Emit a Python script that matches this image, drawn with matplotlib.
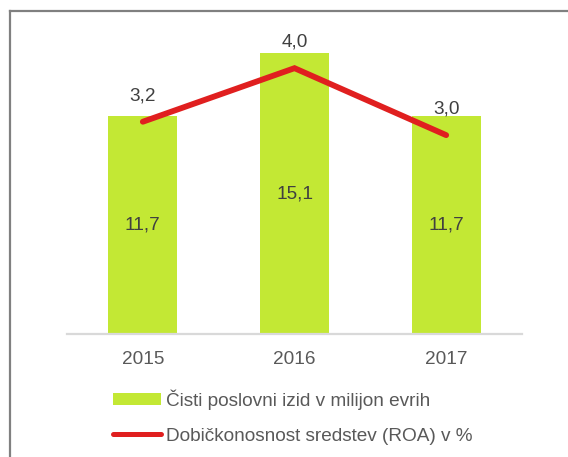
import matplotlib
matplotlib.use("Agg")
import matplotlib.pyplot as plt
from matplotlib.lines import Line2D
from matplotlib.patches import Patch

years = ["2015", "2016", "2017"]
net_income = [11.7, 15.1, 11.7]
roa = [3.2, 4.0, 3.0]
bar_label = "Čisti poslovni izid v milijon evrih"
line_label = "Dobičkonosnost sredstev (ROA) v %"

plt.rcParams['font.family'] = ['Liberation Sans', 'DejaVu Sans']

W, H = 568, 457
fig = plt.figure(figsize=(W/100, H/100), dpi=100)
ax = fig.add_axes([67/W, (H-334)/H, 455/W, 304/H])
ax2 = ax.twinx()

green = "#c3e834"
red = "#e01f1f"
fs = 13.7

x = list(range(len(years)))
bars = ax.bar(x, net_income, width=0.455, color=green, zorder=2)
ax.set_xlim(-0.5, 2.5)
ax.set_ylim(0, 16.34)
for xi, v in zip(x, net_income):
    ax.text(xi, v/2, f"{v:.1f}".replace(".", ","), ha="center", va="center",
            fontsize=fs, color="#404040")

ax2.plot(x, roa, color=red, lw=4.2, solid_capstyle="round", solid_joinstyle="miter", zorder=3)
ax2.set_ylim(0.03, 4.57)
for xi, v in zip(x, roa):
    ax2.annotate(f"{v:.1f}".replace(".", ","), (xi, v), xytext=(0, 18.5),
                 textcoords="offset points", ha="center", va="center",
                 fontsize=fs, color="#404040")

for a in (ax, ax2):
    for s in a.spines.values():
        s.set_visible(False)
    a.set_yticks([])
ax.spines["bottom"].set_visible(True)
ax.spines["bottom"].set_color("#d9d9d9")
ax.spines["bottom"].set_linewidth(1.6)
ax.set_xticks(x)
ax.set_xticklabels(years)
ax.tick_params(axis="x", length=0, pad=12, labelsize=fs, labelcolor="#595959")

# outer frame (partially visible)
fig.add_artist(Line2D([10/W, 10/W], [0, (H-11)/H], color="#808080", lw=1.6,
                      transform=fig.transFigure))
fig.add_artist(Line2D([10/W, 1], [(H-11)/H, (H-11)/H], color="#808080", lw=1.6,
                      transform=fig.transFigure))

handles = [Patch(facecolor=green, edgecolor="none"),
           Line2D([0], [0], color=red, lw=3.6, solid_capstyle="round")]
leg = fig.legend(handles, [bar_label, line_label], loc="upper left",
                 bbox_to_anchor=(113/W, (H-389)/H), frameon=False,
                 fontsize=fs, handlelength=2.5, handleheight=0.6,
                 handletextpad=0.3, labelspacing=0.95, borderpad=0, borderaxespad=0)
for t in leg.get_texts():
    t.set_color("#595959")

fig.savefig("out.png", dpi=100)
